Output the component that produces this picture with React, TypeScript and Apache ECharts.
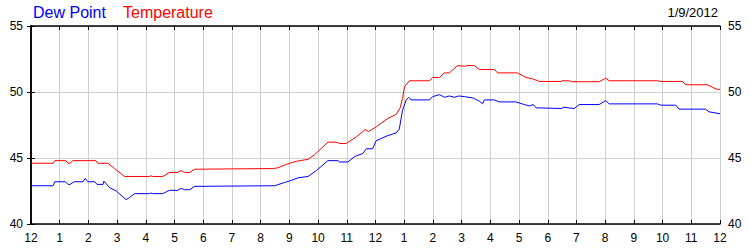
import React, { useEffect, useRef } from "react";
import * as echarts from "echarts";

const hourLabels = ["12", "1", "2", "3", "4", "5", "6", "7", "8", "9", "10", "11", "12", "1", "2", "3", "4", "5", "6", "7", "8", "9", "10", "11", "12"];
const yTicks = [40, 45, 50, 55];
const dateLabel = "1/9/2012";

const tempHours = [0, 0.77, 0.83, 1.21, 1.29, 1.36, 1.46, 2.26, 2.33, 2.68, 2.91, 3.26, 4.14, 4.17, 4.24, 4.59, 4.82, 5.11, 5.23, 5.35, 5.53, 5.69, 8.42, 8.59, 8.87, 9.24, 9.65, 9.88, 10.34, 10.63, 10.75, 10.98, 11.33, 11.64, 11.76, 12.02, 12.43, 12.72, 12.86, 12.94, 13.01, 13.18, 13.88, 13.99, 14.23, 14.4, 14.57, 14.86, 15.1, 15.2, 15.44, 15.62, 16.14, 16.25, 16.95, 17.24, 17.47, 17.7, 18.46, 18.5, 18.75, 18.82, 19.79, 20.02, 20.14, 21.82, 21.94, 22.69, 22.81, 23.56, 23.79, 23.91, 24];
const tempValues = [44.6, 44.6, 44.8, 44.8, 44.6, 44.6, 44.8, 44.8, 44.6, 44.6, 44.2, 43.6, 43.6, 43.65, 43.6, 43.6, 43.9, 43.9, 44.05, 43.9, 43.9, 44.15, 44.2, 44.25, 44.5, 44.75, 44.9, 45.25, 46.2, 46.2, 46.1, 46.1, 46.6, 47.15, 47.0, 47.35, 48.0, 48.3, 48.8, 49.5, 50.4, 50.85, 50.85, 51.1, 51.1, 51.45, 51.45, 52.0, 51.95, 52.0, 52.0, 51.7, 51.7, 51.45, 51.45, 51.1, 51.0, 50.8, 50.8, 50.85, 50.85, 50.78, 50.78, 51.05, 50.85, 50.85, 50.8, 50.8, 50.55, 50.55, 50.3, 50.2, 50.2];

const dewHours = [0, 0.77, 0.83, 1.2, 1.29, 1.36, 1.5, 1.81, 1.89, 1.98, 2.22, 2.3, 2.51, 2.54, 2.74, 2.97, 3.31, 3.43, 3.61, 4.14, 4.17, 4.24, 4.59, 4.82, 5.11, 5.23, 5.35, 5.53, 5.69, 8.49, 8.84, 9.07, 9.3, 9.65, 9.94, 10.34, 10.69, 10.75, 11.04, 11.27, 11.56, 11.68, 11.9, 12.02, 12.37, 12.72, 12.83, 12.94, 13.07, 13.16, 13.24, 13.88, 13.99, 14.23, 14.4, 14.57, 14.75, 14.9, 15.1, 15.39, 15.62, 15.73, 15.79, 16.14, 16.31, 16.89, 17.18, 17.36, 17.5, 17.59, 18.5, 18.53, 18.92, 19.1, 19.79, 20.02, 20.14, 21.82, 21.94, 22.46, 22.58, 23.5, 23.62, 24];
const dewValues = [42.9, 42.9, 43.2, 43.2, 43.0, 43.0, 43.2, 43.2, 43.45, 43.2, 43.2, 43.0, 43.0, 43.25, 42.75, 42.5, 41.85, 42.0, 42.3, 42.3, 42.35, 42.3, 42.3, 42.55, 42.55, 42.7, 42.6, 42.6, 42.85, 42.9, 43.15, 43.3, 43.5, 43.6, 44.05, 44.8, 44.8, 44.7, 44.7, 45.1, 45.35, 45.7, 45.7, 46.3, 46.65, 46.9, 47.2, 48.6, 49.4, 49.6, 49.4, 49.4, 49.65, 49.8, 49.6, 49.7, 49.6, 49.7, 49.65, 49.55, 49.3, 49.1, 49.4, 49.4, 49.25, 49.25, 49.05, 48.95, 49.05, 48.8, 48.75, 48.85, 48.75, 49.05, 49.05, 49.35, 49.1, 49.1, 49.0, 49.0, 48.7, 48.7, 48.5, 48.35];

const FONT = "'Liberation Sans', Arial, sans-serif";

export default function App() {
  const ref = useRef<HTMLDivElement>(null);
  useEffect(() => {
    if (!ref.current) return;
    const chart = echarts.init(ref.current, undefined, { renderer: "svg" });
    const zip = (xs: number[], ys: number[]) => xs.map((x, i) => [x, ys[i]]);
    const axisLine = { show: true, lineStyle: { color: "#000", width: 1.5 } };
    const tick = { show: true, inside: true, length: 4, lineStyle: { color: "#000", width: 1 } };
    chart.setOption({
      animation: false,
      backgroundColor: "#fff",
      grid: { left: 31, right: 30, top: 26, bottom: 26, containLabel: false },
      xAxis: [
        {
          type: "value", position: "bottom", min: 0, max: 24, interval: 1,
          axisLine, axisTick: tick,
          axisLabel: {
            show: true, margin: 8, color: "#000", fontFamily: FONT, fontSize: 12,
            formatter: (v: number) => hourLabels[Math.round(v)] ?? "",
            showMinLabel: true, showMaxLabel: true,
          },
          splitLine: { show: true, lineStyle: { color: "#d0d0d0", width: 1 } },
        },
        {
          type: "value", position: "top", min: 0, max: 24, interval: 1,
          axisLine, axisTick: tick, axisLabel: { show: false }, splitLine: { show: false },
        },
      ],
      yAxis: [
        {
          type: "value", position: "left", min: yTicks[0], max: yTicks[yTicks.length - 1], interval: 5,
          axisLine, axisTick: tick,
          axisLabel: { show: true, margin: 8, color: "#000", fontFamily: FONT, fontSize: 12 },
          splitLine: { show: true, lineStyle: { color: "#d0d0d0", width: 1 } },
        },
        {
          type: "value", position: "right", min: yTicks[0], max: yTicks[yTicks.length - 1], interval: 5,
          axisLine, axisTick: tick,
          axisLabel: { show: true, margin: 8, color: "#000", fontFamily: FONT, fontSize: 12 },
          splitLine: { show: false },
        },
      ],
      series: [
        {
          name: "Temperature", type: "line", xAxisIndex: 0, yAxisIndex: 0,
          data: zip(tempHours, tempValues), showSymbol: false, symbol: "none",
          lineStyle: { color: "#ff0000", width: 1 }, itemStyle: { color: "#ff0000" },
        },
        {
          name: "Dew Point", type: "line", xAxisIndex: 0, yAxisIndex: 0,
          data: zip(dewHours, dewValues), showSymbol: false, symbol: "none",
          lineStyle: { color: "#0000ff", width: 1 }, itemStyle: { color: "#0000ff" },
        },
      ],
      graphic: [
        { type: "text", left: 33, top: 4, style: { text: "Dew Point", fill: "#0000ff", font: `16px ${FONT}` } },
        { type: "text", left: 123, top: 4, style: { text: "Temperature", fill: "#ff0000", font: `16px ${FONT}` } },
        { type: "text", right: 32, top: 6, style: { text: dateLabel, fill: "#000", font: `13px ${FONT}` } },
      ],
    });
    return () => chart.dispose();
  }, []);
  return <div ref={ref} style={{ position: "fixed", left: 0, top: 0, width: 750, height: 250 }} />;
}
